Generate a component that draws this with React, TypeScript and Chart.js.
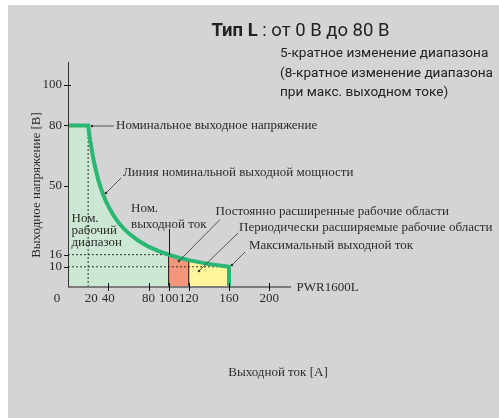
import React, { useEffect, useRef } from "react";
import { Chart, registerables } from "chart.js";

Chart.register(...registerables);

// Output characteristic (constant 1600 W line)
const outputCurrent = [0, 20, 22, 24, 26, 28, 30, 32.5, 35, 37.5, 40, 45, 50, 55, 60, 70, 80, 90, 100, 110, 120, 130, 140, 150, 160];
const outputVoltage = [80, 80, 72.7, 66.7, 61.5, 57.1, 53.3, 49.2, 45.7, 42.7, 40, 35.6, 32, 29.1, 26.7, 22.9, 20, 17.8, 16, 14.5, 13.3, 12.3, 11.4, 10.7, 10];
const dropCurrent = [160, 160];
const dropVoltage = [10, 0];

// Region boundaries (A)
const ratedRange = [0, 100];
const continuousRange = [100, 120];
const periodicRange = [120, 160];

// Reference (dashed) lines
const ratedVoltage = 80;
const ratedPowerCornerCurrent = 20;
const ratedCurrentVoltage = 16;
const maxCurrentVoltage = 10;
const ratedCurrent = 100;
const maxCurrent = 160;
const extendedCurrent = 120;

const xTickValues = [20, 40, 80, 100, 120, 160, 200];
const yTickValues = [10, 16, 50, 80, 100];

const SERIF = '"Liberation Serif", "Times New Roman", serif';
const SANS = '"Liberation Sans Narrow", "Roboto", "Liberation Sans", sans-serif';

function pts(xs: number[], ys: number[]) {
  return xs.map((x, i) => ({ x, y: ys[i] }));
}
function between(lo: number, hi: number) {
  return pts(outputCurrent, outputVoltage).filter((p) => p.x >= lo && p.x <= hi);
}

const decorPlugin = {
  id: "decor",
  beforeDraw(chart: any) {
    const { ctx } = chart;
    ctx.save();
    ctx.fillStyle = "#d4d4d6";
    ctx.fillRect(8, 5, 491, 413);
    ctx.restore();
  },
  afterDatasetsDraw(chart: any) {
    const { ctx } = chart;
    const xs = chart.scales.x;
    const ys = chart.scales.y;
    const X = (v: number) => xs.getPixelForValue(v);
    const Y = (v: number) => ys.getPixelForValue(v);
    const x0 = X(0);
    const y0 = Y(0);
    const ink = "#2b2b2b";
    ctx.save();

    // x axis
    ctx.strokeStyle = "#7b7b7b";
    ctx.lineWidth = 2;
    ctx.beginPath();
    ctx.moveTo(x0, y0);
    ctx.lineTo(chart.chartArea.right, y0);
    ctx.stroke();
    // y axis
    ctx.strokeStyle = "#333";
    ctx.lineWidth = 1;
    ctx.beginPath();
    ctx.moveTo(Math.round(x0) + 0.5, chart.chartArea.top);
    ctx.lineTo(Math.round(x0) + 0.5, y0);
    ctx.stroke();

    // ticks
    ctx.strokeStyle = "#111";
    ctx.lineWidth = 1;
    xTickValues.forEach((v) => {
      if (v === ratedPowerCornerCurrent) return;
      const px = Math.round(X(v)) + 0.5;
      ctx.beginPath();
      ctx.moveTo(px, y0 - 4);
      ctx.lineTo(px, y0 + 4);
      ctx.stroke();
    });
    yTickValues.forEach((v) => {
      const py = Math.round(Y(v)) + 0.5;
      ctx.beginPath();
      ctx.moveTo(x0 - 4, py);
      ctx.lineTo(x0 + (v === 100 ? 3 : 0), py);
      ctx.stroke();
    });

    // leader for rated current
    ctx.beginPath();
    ctx.moveTo(Math.round(X(ratedCurrent)) + 0.5, 229);
    ctx.lineTo(Math.round(X(ratedCurrent)) + 0.5, Y(ratedCurrentVoltage));
    ctx.stroke();

    // tick labels
    ctx.fillStyle = ink;
    ctx.font = "13px " + SERIF;
    ctx.textBaseline = "middle";
    ctx.textAlign = "center";
    xTickValues.forEach((v) => ctx.fillText(String(v), X(v) + (v === ratedPowerCornerCurrent ? 3 : 0), y0 + 12));
    ctx.fillText("0", x0 - 11, y0 + 12);
    ctx.textAlign = "right";
    yTickValues.forEach((v) => ctx.fillText(String(v), x0 - 6, Y(v)));

    // leader lines
    const leader = (ax: number, ay: number, bx: number, by: number) => {
      ctx.strokeStyle = "#333";
      ctx.lineWidth = 0.8;
      ctx.beginPath();
      ctx.moveTo(ax, ay);
      ctx.lineTo(bx, by);
      ctx.stroke();
      ctx.fillStyle = "#333";
      ctx.beginPath();
      ctx.arc(ax, ay, 1.3, 0, Math.PI * 2);
      ctx.fill();
    };
    leader(92, 126, 114, 126);
    leader(106, 193, 121, 178);
    leader(179, 261, 220, 219.5);
    leader(199, 271, 238, 233);
    leader(232, 265, 245, 252);

    ctx.fillStyle = ink;
    ctx.textAlign = "left";
    ctx.font = "13px " + SERIF;
    ctx.fillText("Номинальное выходное напряжение", 116, 126);
    ctx.fillText("Линия номинальной выходной мощности", 123, 173);
    ctx.fillText("Ном.", 131, 209);
    ctx.fillText("выходной ток", 131, 225);
    ctx.fillText("Ном.", 71.5, 219);
    ctx.fillText("рабочий", 71.5, 231);
    ctx.fillText("диапазон", 71.5, 243);
    ctx.fillText("Постоянно расширенные рабочие области", 215.5, 212);
    ctx.fillText("Периодически расширяемые рабочие области", 239, 228);
    ctx.fillText("Максимальный выходной ток", 249, 246);
    ctx.fillText("PWR1600L", 296.5, 287.5);

    ctx.textAlign = "center";
    ctx.fillText("Выходной ток [A]", 278, 373);
    ctx.save();
    ctx.translate(36.5, 185);
    ctx.rotate(-Math.PI / 2);
    ctx.fillText("Выходное напряжение [В]", 0, 0);
    ctx.restore();

    // title
    ctx.textAlign = "left";
    ctx.fillStyle = "#222";
    ctx.font = "bold 18.5px " + SANS;
    const t1 = "Тип L";
    ctx.fillText(t1, 211.5, 31);
    const w1 = ctx.measureText(t1).width;
    ctx.font = "18.5px " + SANS;
    ctx.fillText(" : от 0 В до 80 В", 211.5 + w1, 31);

    ctx.font = "13.6px " + SANS;
    ctx.fillText("5-кратное изменение диапазона", 280, 54);
    ctx.fillText("(8-кратное изменение диапазона", 280, 73.3);
    ctx.fillText("при макс. выходном токе)", 280, 92.7);

    ctx.restore();
  },
};

export default function App() {
  const ref = useRef<HTMLCanvasElement | null>(null);
  useEffect(() => {
    if (!ref.current) return;
    const curve = pts(outputCurrent, outputVoltage).concat(pts(dropCurrent, dropVoltage).slice(1));
    const chart = new Chart(ref.current, {
      type: "scatter",
      data: {
        datasets: [
          {
            label: "Линия номинальной выходной мощности",
            data: curve,
            showLine: true,
            borderColor: "#2bb673",
            borderWidth: 4,
            borderJoinStyle: "miter",
            pointRadius: 0,
            fill: false,
          },
          {
            label: "граница 120",
            data: [
              { x: extendedCurrent, y: 0 },
              { x: extendedCurrent, y: between(extendedCurrent, extendedCurrent)[0].y },
            ],
            showLine: true,
            borderColor: "#111",
            borderWidth: 1,
            pointRadius: 0,
          },
          {
            label: "граница 100",
            data: [
              { x: ratedCurrent, y: 0 },
              { x: ratedCurrent, y: ratedCurrentVoltage },
            ],
            showLine: true,
            borderColor: "#111",
            borderWidth: 1,
            pointRadius: 0,
          },
          {
            label: "16 В",
            data: [
              { x: 0, y: ratedCurrentVoltage },
              { x: ratedCurrent, y: ratedCurrentVoltage },
            ],
            showLine: true,
            borderColor: "#333",
            borderWidth: 1,
            borderDash: [2, 2],
            pointRadius: 0,
          },
          {
            label: "10 В",
            data: [
              { x: 0, y: maxCurrentVoltage },
              { x: maxCurrent, y: maxCurrentVoltage },
            ],
            showLine: true,
            borderColor: "#333",
            borderWidth: 1,
            borderDash: [2, 2],
            pointRadius: 0,
          },
          {
            label: "20 A",
            data: [
              { x: ratedPowerCornerCurrent, y: 0 },
              { x: ratedPowerCornerCurrent, y: ratedVoltage },
            ],
            showLine: true,
            borderColor: "#333",
            borderWidth: 1,
            borderDash: [2, 2],
            pointRadius: 0,
          },
          {
            label: "Периодически расширяемые рабочие области",
            data: between(periodicRange[0], periodicRange[1]),
            showLine: true,
            borderWidth: 0,
            borderColor: "rgba(0,0,0,0)",
            backgroundColor: "#fff59b",
            fill: "origin",
            pointRadius: 0,
          },
          {
            label: "Постоянно расширенные рабочие области",
            data: between(continuousRange[0], continuousRange[1]),
            showLine: true,
            borderWidth: 0,
            borderColor: "rgba(0,0,0,0)",
            backgroundColor: "#f4967a",
            fill: "origin",
            pointRadius: 0,
          },
          {
            label: "Ном. рабочий диапазон",
            data: between(ratedRange[0], ratedRange[1]),
            showLine: true,
            borderWidth: 0,
            borderColor: "rgba(0,0,0,0)",
            backgroundColor: "#cce7d4",
            fill: "origin",
            pointRadius: 0,
          },
        ],
      },
      options: {
        animation: false,
        responsive: false,
        devicePixelRatio: 1,
        layout: { padding: { left: 68, top: 62, right: 208, bottom: 131 } },
        scales: {
          x: { type: "linear", min: 0, max: 221.6, display: false },
          y: { type: "linear", min: 0, max: 111.4, display: false },
        },
        plugins: {
          legend: { display: false },
          tooltip: { enabled: false },
        },
      } as any,
      plugins: [decorPlugin],
    });
    return () => chart.destroy();
  }, []);
  return (
    <div style={{ position: "fixed", left: 0, top: 0, width: 499, height: 418 }}>
      <canvas ref={ref} width={499} height={418} />
    </div>
  );
}
